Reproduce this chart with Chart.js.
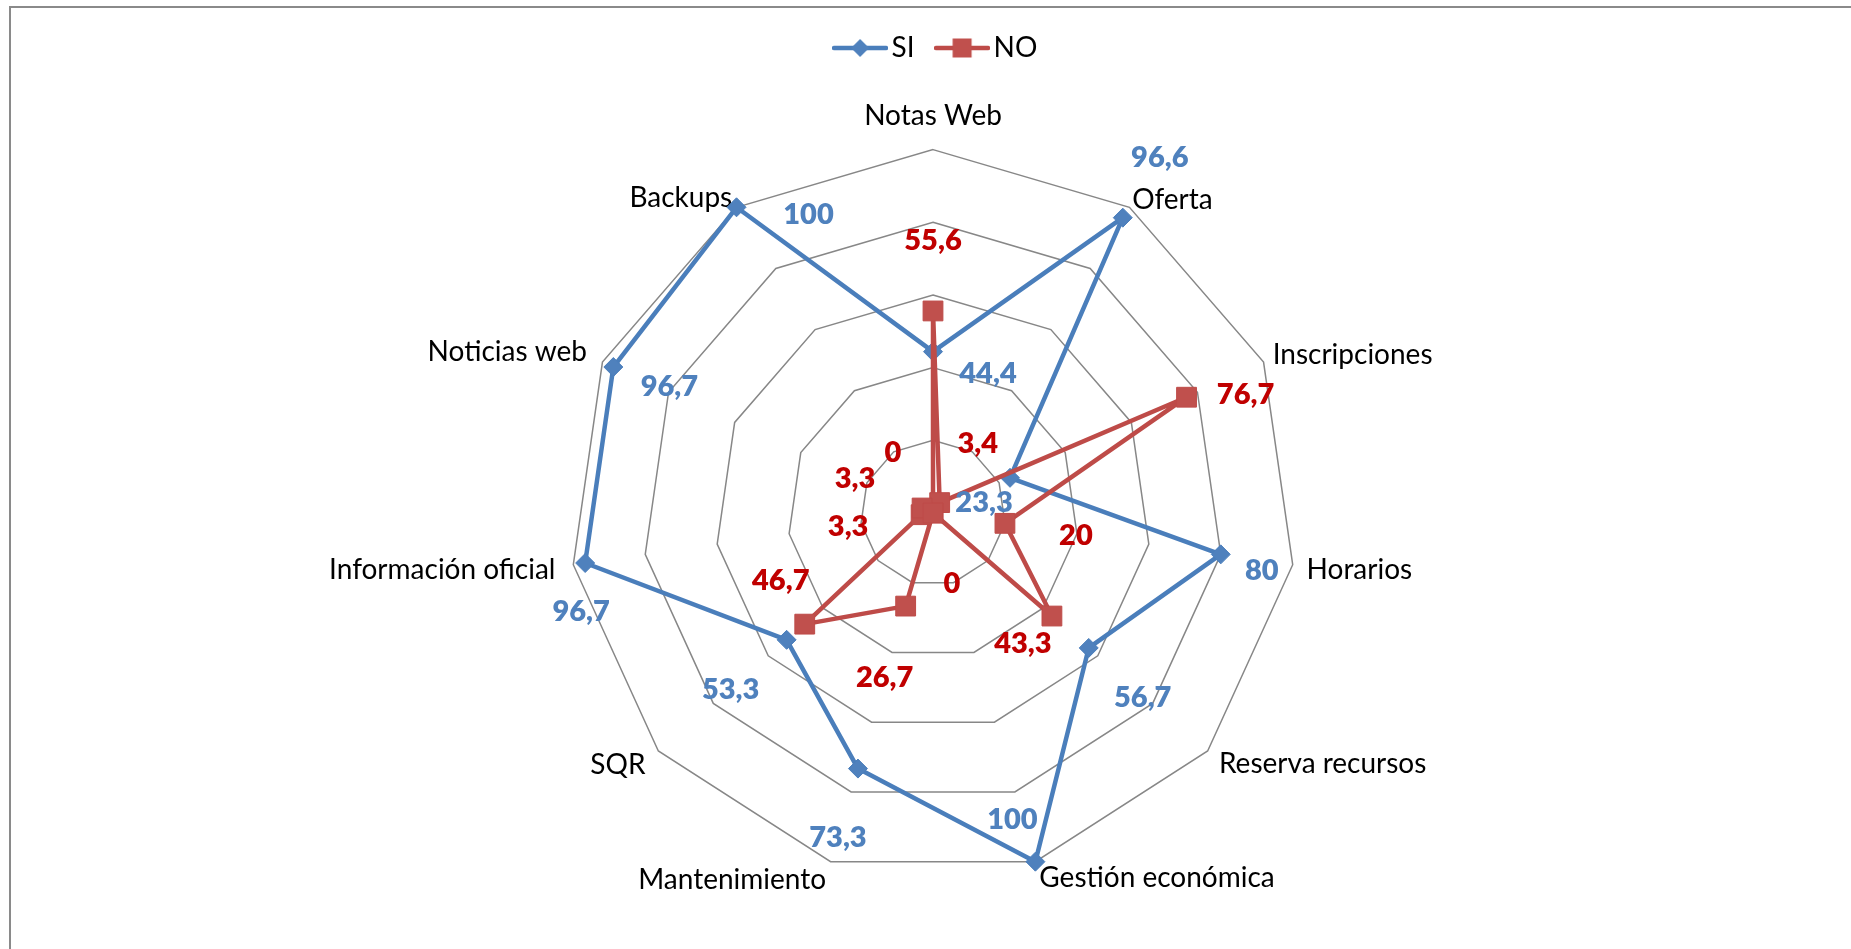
<!DOCTYPE html>
<html>
<head>
<meta charset="utf-8">
<title>SI / NO</title>
<script src="https://cdn.jsdelivr.net/npm/chart.js@4.4.1/dist/chart.umd.min.js"></script>
<style>
    html, body { margin: 0; padding: 0; background: #fff; overflow: hidden; }
    #wrap { position: absolute; left: 0; top: 0; width: 1851px; height: 949px; }
    #frame { position: absolute; left: 9px; top: 6px; width: 1900px; height: 1000px;
             border: 2px solid #8a8a8a; box-sizing: border-box; pointer-events: none; }
</style>
</head>
<body>
<div id="frame"></div>
<div id="wrap"><canvas id="chart"></canvas></div>
<script>
// Data
const categories = ['Notas Web', 'Oferta', 'Inscripciones', 'Horarios', 'Reserva recursos',
    'Gestión económica', 'Mantenimiento', 'SQR', 'Información oficial', 'Noticias web', 'Backups'];
const siValues = [44.4, 96.6, 23.3, 80, 56.7, 100, 73.3, 53.3, 96.7, 96.7, 100];
const noValues = [55.6, 3.4, 76.7, 20, 43.3, 0, 26.7, 46.7, 3.3, 3.3, 0];
const scaleMin = 0;
const scaleMax = 100;
const scaleStep = 20;

// Where each value label sits, relative to its point (px)
const siLabelOffsets = [[55, 22], [37, -60], [-26, 25], [41, 16], [54, 50], [-23, -42],
    [-20, 69], [-56, 50], [-4, 49], [56, 20], [72, 7]];
const noLabelOffsets = [[0, -70], [38, -59], [59, -3], [71, 12], [-29, 28], [19, 71],
    [-21, 72], [-24, -43], [-73, 12], [-67, -29], [-40, -60]];
// Gap between outer ring and category label, per category
const pointLabelPadding = [31, 5, 10, 14, 15, 14, 16, 17, 18, 17, 8];

const BLUE = '#4A7EBB';
const BLUE_FILL = '#4F81BD';
const RED = '#BE4B48';
const RED_FILL = '#C0504D';
const BLUE_TEXT = '#4F81BD';
const RED_TEXT = '#C00000';
const FONT = 'Lato, "Open Sans", sans-serif';

// Legend icon: line with marker in the middle
function makeLegendIcon(color, fill, marker) {
    const c = document.createElement('canvas');
    c.width = 56;
    c.height = 22;
    const g = c.getContext('2d');
    g.strokeStyle = color;
    g.lineWidth = 4.5;
    g.lineCap = 'round';
    g.beginPath();
    g.moveTo(2, 11);
    g.lineTo(54, 11);
    g.stroke();
    g.fillStyle = fill;
    g.beginPath();
    if (marker === 'diamond') {
        g.moveTo(28 - 9, 11);
        g.lineTo(28, 2);
        g.lineTo(28 + 9, 11);
        g.lineTo(28, 20);
        g.closePath();
    } else {
        g.rect(28 - 9.5, 1.5, 19, 19);
    }
    g.fill();
    return c;
}
const legendIcons = [
    makeLegendIcon(BLUE, BLUE_FILL, 'diamond'),
    makeLegendIcon(RED, RED_FILL, 'square')
];

// Extra room under the legend, and nudge it a little to the right
const legendGap = {
    id: 'legendGap',
    beforeLayout(chart) {
        const legend = chart.legend;
        if (!legend || legend._gapPatched) return;
        const fit = legend.fit;
        legend.fit = function () {
            fit.call(this);
            this.height += 26;
        };
        legend._gapPatched = true;
    },
    afterLayout(chart) {
        if (!chart.legend) return;
        chart.legend.left += 7;
        chart.legend.right += 7;
    }
};

// Value labels next to each point
const valueLabels = {
    id: 'valueLabels',
    afterDatasetsDraw(chart) {
        const ctx = chart.ctx;
        ctx.save();
        ctx.font = '800 29px ' + FONT;
        ctx.textAlign = 'center';
        ctx.textBaseline = 'middle';
        chart.data.datasets.forEach((ds, di) => {
            const meta = chart.getDatasetMeta(di);
            const offsets = ds.labelOffsets;
            ctx.fillStyle = ds.labelColor;
            meta.data.forEach((pt, i) => {
                const txt = String(ds.data[i]).replace('.', ',');
                ctx.fillText(txt, pt.x + offsets[i][0], pt.y + offsets[i][1]);
            });
        });
        ctx.restore();
    }
};

function drawChart() {
    new Chart(document.getElementById('chart'), {
        type: 'radar',
        data: {
            labels: categories,
            datasets: [
                {
                    label: 'SI',
                    data: siValues,
                    borderColor: BLUE,
                    borderWidth: 4.5,
                    borderJoinStyle: 'round',
                    backgroundColor: BLUE_FILL,
                    pointStyle: 'rectRot',
                    pointRadius: 9.5,
                    pointBackgroundColor: BLUE_FILL,
                    pointBorderColor: BLUE,
                    pointBorderWidth: 1,
                    fill: false,
                    order: 1,
                    labelOffsets: siLabelOffsets,
                    labelColor: BLUE_TEXT
                },
                {
                    label: 'NO',
                    data: noValues,
                    borderColor: RED,
                    borderWidth: 4.5,
                    borderJoinStyle: 'round',
                    backgroundColor: RED_FILL,
                    pointStyle: 'rect',
                    pointRadius: 14,
                    pointBackgroundColor: RED_FILL,
                    pointBorderColor: RED,
                    pointBorderWidth: 1,
                    fill: false,
                    order: 0,
                    labelOffsets: noLabelOffsets,
                    labelColor: RED_TEXT
                }
            ]
        },
        options: {
            responsive: true,
            maintainAspectRatio: false,
            animation: false,
            layout: {
                padding: { top: 4, left: 15, right: 0, bottom: 51 }
            },
            elements: {
                line: { tension: 0 }
            },
            scales: {
                r: {
                    min: scaleMin,
                    max: scaleMax,
                    ticks: { display: false, stepSize: scaleStep },
                    angleLines: { display: false },
                    grid: { color: '#878787', lineWidth: 1.5 },
                    pointLabels: {
                        color: '#000',
                        font: { family: FONT, size: 28, lineHeight: 0.2 },
                        padding: (c) => pointLabelPadding[c.index]
                    }
                }
            },
            plugins: {
                tooltip: { enabled: false },
                legend: {
                    position: 'top',
                    labels: {
                        color: '#000',
                        font: { family: FONT, size: 28 },
                        usePointStyle: true,
                        pointStyleWidth: 35,
                        padding: 30,
                        sort: (a, b) => a.datasetIndex - b.datasetIndex,
                        generateLabels(chart) {
                            const items = Chart.defaults.plugins.legend.labels.generateLabels(chart);
                            items.forEach(it => { it.pointStyle = legendIcons[it.datasetIndex]; });
                            return items;
                        }
                    }
                }
            }
        },
        plugins: [legendGap, valueLabels]
    });
}

if (document.fonts && document.fonts.load) {
    Promise.all([document.fonts.load('28px Lato'), document.fonts.load('800 29px Lato')])
        .then(drawChart, drawChart);
} else {
    drawChart();
}
</script>
</body>
</html>
